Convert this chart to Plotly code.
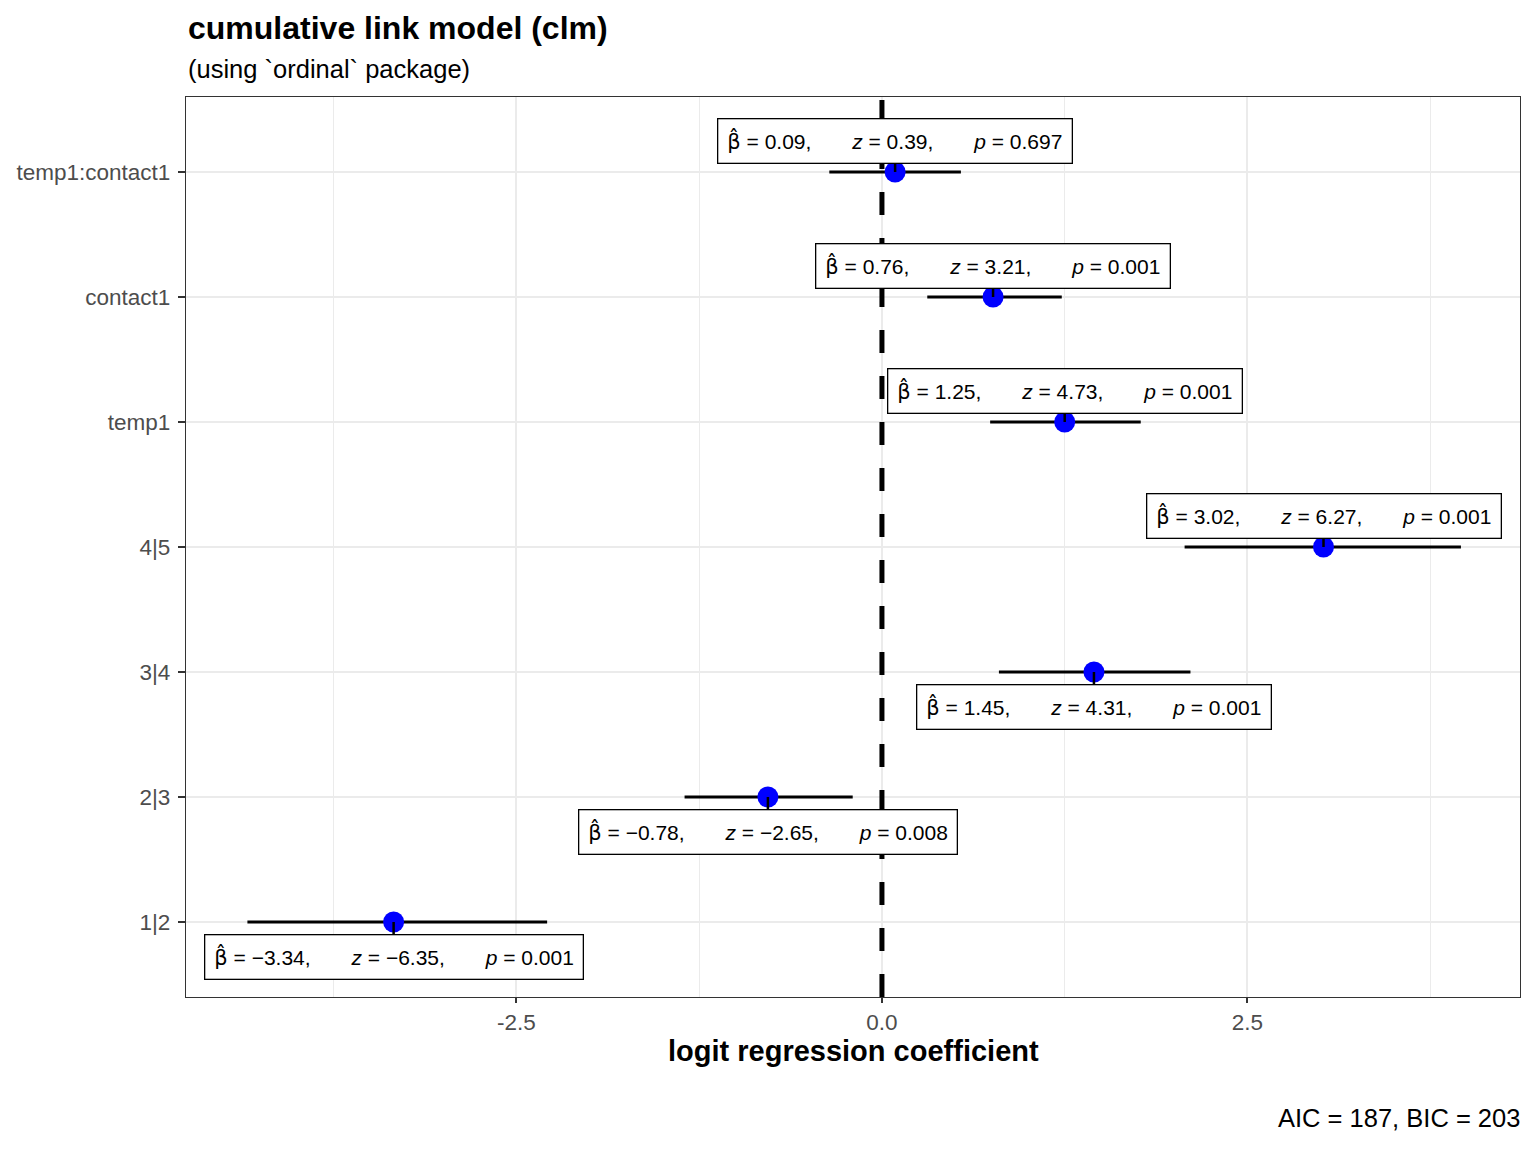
"""Coefficient plot for a cumulative link model (clm)."""
import plotly.graph_objects as go

terms = ["1|2", "2|3", "3|4", "4|5", "temp1", "contact1", "temp1:contact1"]
estimates = [-3.34, -0.78, 1.45, 3.02, 1.25, 0.76, 0.09]
ci_low = [-4.34, -1.35, 0.80, 2.07, 0.74, 0.31, -0.36]
ci_high = [-2.29, -0.20, 2.11, 3.96, 1.77, 1.23, 0.54]
z_values = [-6.35, -2.65, 4.31, 6.27, 4.73, 3.21, 0.39]
p_values = ["0.001", "0.008", "0.001", "0.001", "0.001", "0.001", "0.697"]
label_above = [False, False, False, True, True, True, True]

FONT = "Liberation Sans, Arial, sans-serif"
GAP = "&nbsp;" * 7

fig = go.Figure()

fig.add_trace(go.Scatter(
    x=estimates,
    y=terms,
    mode="markers",
    marker=dict(color="#0000FF", size=21),
    error_x=dict(
        type="data",
        symmetric=False,
        array=[h - e for h, e in zip(ci_high, estimates)],
        arrayminus=[e - l for e, l in zip(estimates, ci_low)],
        width=0,
        thickness=3,
        color="black",
    ),
    showlegend=False,
))

# zero reference line
fig.add_shape(
    type="line", xref="x", yref="paper", x0=0, x1=0, y0=0, y1=1,
    line=dict(color="black", width=5, dash="23px,23px"), layer="above",
)


def fmt(v):
    return f"{v:.2f}".replace("-", "\u2212")


beta_hat = '<span style="font-family:DejaVu Sans">\u03b2\u0302</span>'

for term, est, z, p, above in zip(terms, estimates, z_values, p_values, label_above):
    text = (f"{beta_hat} = {fmt(est)},{GAP}<i>z</i> = {fmt(z)},{GAP}"
            f"<i>p</i> = {p}")
    fig.add_annotation(
        x=est, y=term, xref="x", yref="y",
        text=text,
        showarrow=True, arrowhead=0, arrowwidth=2.5, arrowcolor="black",
        ax=0, ay=-31 if above else 35,
        font=dict(family=FONT, size=21, color="black"),
        bgcolor="white", bordercolor="black", borderwidth=1.3, borderpad=9,
    )

# titles and caption
fig.add_annotation(
    x=0, y=1.0767, xref="paper", yref="paper", xanchor="left", yanchor="middle",
    text="<b>cumulative link model (clm)</b>", showarrow=False,
    font=dict(family=FONT, size=32, color="black"),
)
fig.add_annotation(
    x=0, y=1.031, xref="paper", yref="paper", xanchor="left", yanchor="middle",
    text="(using `ordinal` package)", showarrow=False,
    font=dict(family=FONT, size=25.5, color="black"),
)
fig.add_annotation(
    x=0.5, y=-0.06, xref="paper", yref="paper", xanchor="center", yanchor="middle",
    text="<b>logit regression coefficient</b>", showarrow=False,
    font=dict(family=FONT, size=29, color="black"),
)
fig.add_annotation(
    x=1.0015, y=-0.1344, xref="paper", yref="paper", xanchor="right", yanchor="middle",
    text="AIC = 187, BIC = 203", showarrow=False,
    font=dict(family=FONT, size=25.5, color="black"),
)

# page body has an 8px margin, so the figure is sized and offset for it
fig.update_layout(
    width=1528,
    height=1144,
    margin=dict(l=178, r=16, t=89, b=155, autoexpand=False),
    plot_bgcolor="white",
    paper_bgcolor="white",
    font=dict(family=FONT, color="#4D4D4D", size=22.5),
    xaxis=dict(
        range=[-4.76, 4.364],
        tickmode="array",
        tickvals=[-2.5, 0, 2.5],
        ticktext=["-2.5", "0.0", "2.5"],
        ticks="outside", ticklen=5, tickwidth=2, tickcolor="#333333",
        showgrid=True, gridcolor="#EBEBEB", gridwidth=2,
        minor=dict(tickvals=[-3.75, -1.25, 1.25, 3.75], showgrid=True,
                   gridcolor="#EBEBEB", gridwidth=1, ticks=""),
        zeroline=False, automargin=False,
        showline=True, linecolor="#333333", linewidth=1.3, mirror=True,
        tickfont=dict(size=22.5, color="#4D4D4D"),
    ),
    yaxis=dict(
        type="category",
        categoryorder="array",
        categoryarray=terms,
        range=[-0.6, 6.6],
        ticks="outside", ticklen=7, tickwidth=2, tickcolor="#333333",
        ticklabelstandoff=3,
        showgrid=True, gridcolor="#EBEBEB", gridwidth=2,
        zeroline=False, automargin=False,
        showline=True, linecolor="#333333", linewidth=1.3, mirror=True,
        tickfont=dict(size=22.5, color="#4D4D4D"),
    ),
)

fig.write_html("out.html")
